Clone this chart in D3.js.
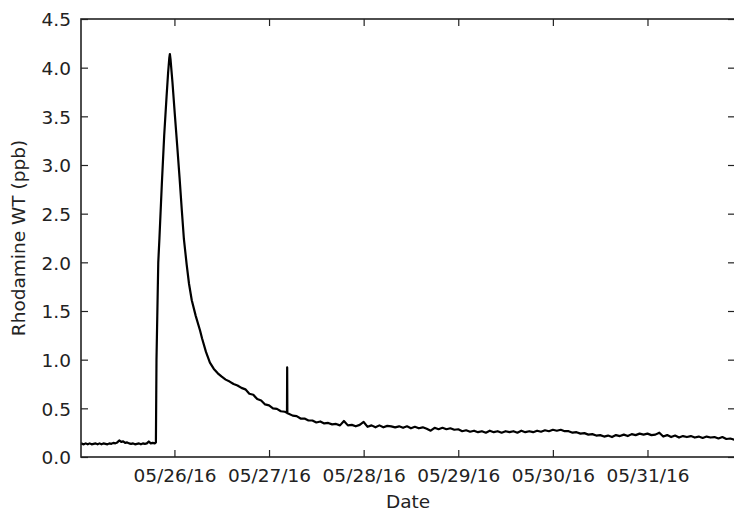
<!DOCTYPE html>
<html>
<head>
<meta charset="utf-8">
<script src="https://cdn.jsdelivr.net/npm/d3@7"></script>
<style>
  body { margin: 0; background: #fff; }
  svg text { font-family: "DejaVu Sans", sans-serif; fill: #222; }
</style>
</head>
<body>
<div id="chart"></div>
<script>
// Hours since 05/25/16 00:00 and the logged Rhodamine WT concentration (ppb)
const hours = [
  0.3, 1, 1.5, 2, 2.5, 3, 3.5, 4, 4.5, 5, 5.5, 6, 6.5, 7, 7.5, 8, 8.5, 9, 9.5, 10,
  10.5, 11, 11.5, 12, 12.5, 13, 13.5, 14, 14.5, 15, 15.5, 16, 16.5, 17, 17.5, 18, 18.5, 19, 19.3,
  19.45, 19.9, 20.2, 20.8, 21.4, 22.0, 22.4, 22.7, 22.85, 23.0, 23.5, 24.1, 24.7, 25.3, 25.9,
  26.4, 27.1, 27.7, 28.4, 29.4, 30.5, 31, 32, 33, 34, 35, 36, 37, 38, 39, 40, 41, 42,
  43, 44, 45, 46, 47, 48, 49, 50, 51, 52, 52.55, 52.6, 52.65,
  53, 54, 55, 56, 57, 58, 59, 60, 61, 62, 63, 64, 65, 66, 67, 68, 69, 70, 71, 72, 73, 74,
  75, 76, 77, 78, 79, 80, 81, 82, 83, 84, 85, 86, 87, 88, 89, 90, 91, 92, 93, 94, 95, 96,
  97, 98, 99, 100, 101, 102, 103, 104, 105, 106, 107, 108, 109, 110, 111, 112, 113, 114,
  115, 116, 117, 118, 119, 120, 121, 122, 123, 124, 125, 126, 127, 128, 129, 130, 131, 132,
  133, 134, 135, 136, 137, 138, 139, 140, 141, 142, 143, 144, 145, 146, 147, 148, 149, 150,
  151, 152, 153, 154, 155, 156, 157, 158, 159, 160, 161, 162, 163, 164, 165, 166.2
];
const rhodamine = [
  0.14, 0.13, 0.14, 0.13, 0.14, 0.13, 0.135, 0.14, 0.13, 0.14, 0.13, 0.14, 0.135, 0.13, 0.14, 0.135, 0.145, 0.14, 0.15, 0.17,
  0.155, 0.16, 0.145, 0.15, 0.14, 0.135, 0.14, 0.13, 0.135, 0.14, 0.13, 0.14, 0.135, 0.14, 0.16, 0.14, 0.145, 0.14, 0.15,
  1.0, 2.0, 2.25, 2.8, 3.3, 3.7, 3.95, 4.1, 4.14, 4.09, 3.85, 3.52, 3.2, 2.87, 2.52,
  2.24, 1.98, 1.78, 1.61, 1.45, 1.30, 1.22, 1.08, 0.97, 0.905, 0.86, 0.825, 0.795, 0.775, 0.75, 0.735, 0.71, 0.695,
  0.65, 0.64, 0.595, 0.58, 0.54, 0.53, 0.50, 0.495, 0.47, 0.465, 0.455, 0.92, 0.45,
  0.445, 0.425, 0.42, 0.395, 0.395, 0.375, 0.375, 0.355, 0.365, 0.345, 0.35, 0.335, 0.34, 0.325, 0.37, 0.325, 0.33, 0.315, 0.33, 0.36, 0.31, 0.325,
  0.305, 0.325, 0.305, 0.32, 0.315, 0.305, 0.315, 0.30, 0.315, 0.295, 0.31, 0.295, 0.305, 0.29, 0.27, 0.30, 0.285, 0.30, 0.285, 0.295, 0.28, 0.285,
  0.265, 0.275, 0.26, 0.27, 0.255, 0.265, 0.25, 0.27, 0.255, 0.265, 0.25, 0.265, 0.255, 0.265, 0.25, 0.27, 0.255, 0.265,
  0.255, 0.27, 0.26, 0.275, 0.265, 0.28, 0.27, 0.28, 0.265, 0.265, 0.25, 0.255, 0.24, 0.245, 0.23, 0.235, 0.22, 0.225,
  0.21, 0.22, 0.205, 0.225, 0.215, 0.23, 0.215, 0.235, 0.225, 0.24, 0.23, 0.24, 0.225, 0.23, 0.25, 0.21, 0.225, 0.205,
  0.22, 0.20, 0.215, 0.205, 0.215, 0.20, 0.21, 0.195, 0.21, 0.20, 0.205, 0.19, 0.205, 0.185, 0.19, 0.175
];
const dateTicks = ["2016-05-26", "2016-05-27", "2016-05-28", "2016-05-29", "2016-05-30", "2016-05-31"];
const valueTicks = [0, 0.5, 1, 1.5, 2, 2.5, 3, 3.5, 4, 4.5];

const W = 734, H = 511;
const margin = { top: 19, right: -1, bottom: 54, left: 81 };
const width = W - margin.left - margin.right;
const height = H - margin.top - margin.bottom;
const fontSize = 18.5;
const tickLen = 7;

const start = new Date(2016, 4, 25);
const data = hours.map((h, i) => ({
  date: new Date(start.getTime() + h * 3600 * 1000),
  value: rhodamine[i],
}));
const parseDay = d3.timeParse("%Y-%m-%d");

const x = d3.scaleTime().domain(d3.extent(data, (d) => d.date)).range([0, width]);
const y = d3.scaleLinear().domain([0, 4.5]).range([height, 0]);

const svg = d3
  .select("#chart")
  .append("svg")
  .attr("width", W)
  .attr("height", H)
  .append("g")
  .attr("transform", `translate(${margin.left},${margin.top})`);

// Axes: ticks point inward on all four sides, labels on bottom and left only
function styleAxis(g) {
  g.select(".domain").remove();
  g.selectAll(".tick line").attr("stroke", "#222").attr("stroke-width", 1.2);
  g.selectAll(".tick text").style("font-size", fontSize + "px");
}

svg
  .append("g")
  .attr("transform", `translate(0,${height})`)
  .call(
    d3.axisBottom(x)
      .tickValues(dateTicks.map(parseDay))
      .tickFormat(d3.timeFormat("%m/%d/%y"))
      .tickSizeInner(-tickLen)
      .tickSizeOuter(0)
      .tickPadding(12)
  )
  .call(styleAxis);

svg
  .append("g")
  .call(
    d3.axisTop(x)
      .tickValues(dateTicks.map(parseDay))
      .tickFormat("")
      .tickSizeInner(-tickLen)
      .tickSizeOuter(0)
  )
  .call(styleAxis);

svg
  .append("g")
  .call(
    d3.axisLeft(y)
      .tickValues(valueTicks)
      .tickFormat(d3.format(".1f"))
      .tickSizeInner(-tickLen)
      .tickSizeOuter(0)
      .tickPadding(10)
  )
  .call(styleAxis)
  .selectAll(".tick text")
  .attr("dy", "0.36em");

svg
  .append("g")
  .attr("transform", `translate(${width},0)`)
  .call(
    d3.axisRight(y)
      .tickValues(valueTicks)
      .tickFormat("")
      .tickSizeInner(-tickLen)
      .tickSizeOuter(0)
  )
  .call(styleAxis);

// The concentration trace
const line = d3
  .line()
  .x((d) => x(d.date))
  .y((d) => y(d.value));

svg
  .append("path")
  .datum(data)
  .attr("d", line)
  .attr("fill", "none")
  .attr("stroke", "#000")
  .attr("stroke-width", 2.2)
  .attr("stroke-linejoin", "round");

// Frame
svg
  .append("rect")
  .attr("width", width)
  .attr("height", height)
  .attr("fill", "none")
  .attr("stroke", "#222")
  .attr("stroke-width", 1.6);

// Axis labels
svg
  .append("text")
  .attr("x", width / 2)
  .attr("y", height + 51)
  .attr("text-anchor", "middle")
  .style("font-size", fontSize + "px")
  .text("Date");

svg
  .append("text")
  .attr("transform", `translate(${18.5 - margin.left},${height / 2}) rotate(-90)`)
  .attr("text-anchor", "middle")
  .attr("dominant-baseline", "central")
  .style("font-size", fontSize + "px")
  .text("Rhodamine WT (ppb)");
</script>
</body>
</html>
